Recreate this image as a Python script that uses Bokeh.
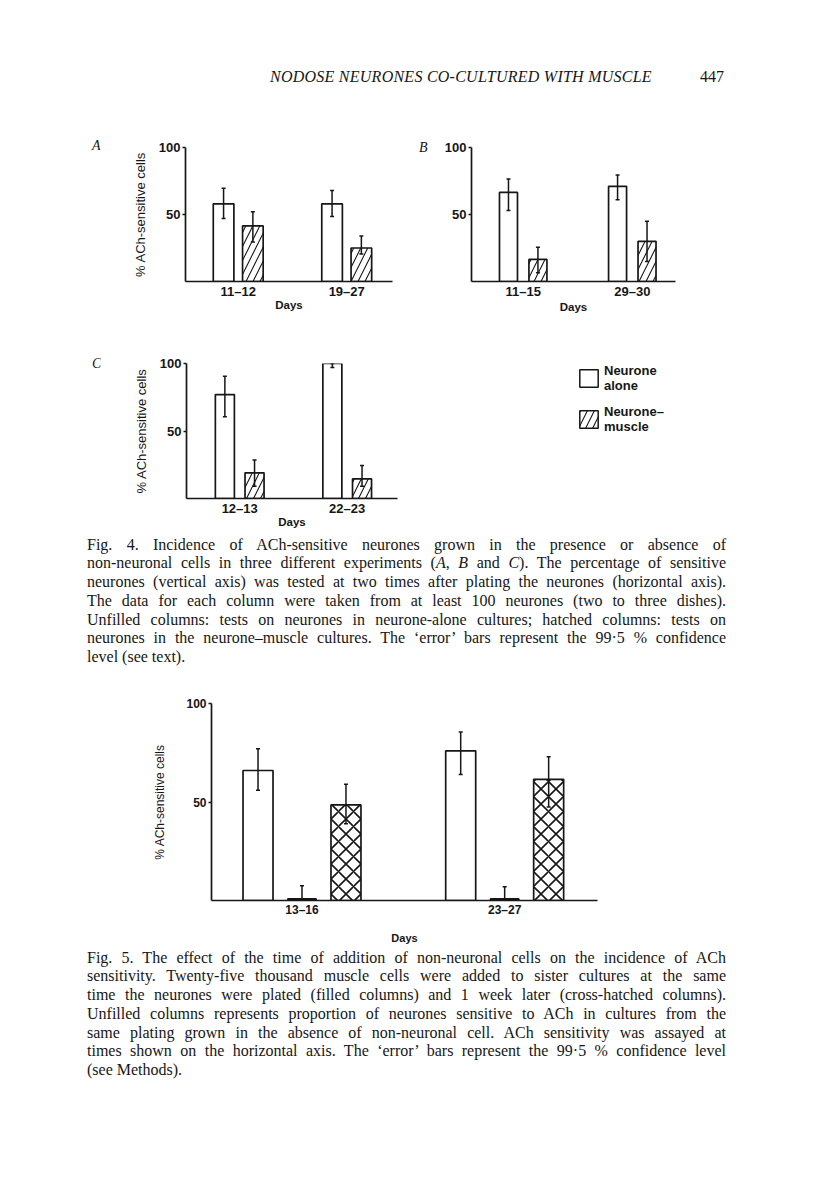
from bokeh.plotting import figure
from bokeh.models import (Range1d, FixedTicker, Whisker, TeeHead, ColumnDataSource,
                          Div, Legend, LegendItem)
from bokeh.layouts import row, column
from bokeh.transform import dodge
from bokeh.embed import file_html
from bokeh.resources import INLINE

# ---------------- data ----------------
# Fig. 4A
a_days = ["11–12", "19–27"]
a_alone = [58, 58]
a_alone_lo = [47, 48.5]
a_alone_hi = [69.5, 68]
a_muscle = [41.5, 25]
a_muscle_lo = [29.5, 20.5]
a_muscle_hi = [52, 34]

# Fig. 4B
b_days = ["11–15", "29–30"]
b_alone = [66.5, 71]
b_alone_lo = [53, 61]
b_alone_hi = [76.5, 79.5]
b_muscle = [16.5, 30]
b_muscle_lo = [6.5, 15]
b_muscle_hi = [25.5, 45]

# Fig. 4C
c_days = ["12–13", "22–23"]
c_alone = [77, 100]
c_alone_lo = [60.5, 97]
c_alone_hi = [90.5, 100]
c_muscle = [19, 14.5]
c_muscle_lo = [9, 9]
c_muscle_hi = [28.5, 24.5]

# Fig. 5
f5_days = ["13–16", "23–27"]
f5_alone = [66, 76]
f5_alone_lo = [56, 64]
f5_alone_hi = [77, 85.5]
f5_filled = [0.8, 0.8]
f5_filled_lo = [0.8, 0.8]
f5_filled_hi = [7.5, 7]
f5_cross = [48.5, 61.5]
f5_cross_lo = [39, 47.5]
f5_cross_hi = [59, 73]

y_ticks = [50, 100]
y_label = "% ACh-sensitive cells"
x_label = "Days"
legend_labels = ["Neurone\nalone", "Neurone–\nmuscle"]

SANS = "Liberation Sans"
SERIF = "Liberation Serif"
INK = "#161616"

UNFILLED = dict(fill_color="white")
HATCHED = dict(fill_color="white", hatch_pattern="/", hatch_color=INK, hatch_scale=14, hatch_weight=1.1)
CROSS = dict(fill_color="white", hatch_pattern="x", hatch_color=INK, hatch_scale=15, hatch_weight=1.6)
FILLED = dict(fill_color=INK)


def panel(width, height, bl, br, bt, bb, xr, days, series, ylab, tick_fs, ylab_fs,
          days_fs, ylab_standoff, xlab_standoff):
    p = figure(width=width, height=height, x_range=Range1d(*xr), y_range=Range1d(0, 100),
               output_backend="svg", toolbar_location=None, min_border_left=bl,
               min_border_right=br, min_border_top=bt, min_border_bottom=bb, margin=0)
    p.outline_line_color = None
    p.xgrid.visible = False
    p.ygrid.visible = False
    groups = list(range(1, len(days) + 1))
    srcs = []
    for offset, bw, vals, lo, hi, kw in series:
        src = ColumnDataSource(dict(g=groups, top=vals, lo=lo, hi=hi))
        srcs.append(src)
        p.vbar(x=dodge("g", offset), top="top", width=bw, source=src,
               line_color=INK, line_width=1.7, **kw)
        p.add_layout(Whisker(source=src, base=dodge("g", offset), upper="hi", lower="lo",
                             line_color=INK, line_width=1.5, level="overlay",
                             upper_head=TeeHead(size=4, line_width=1.5, line_color=INK),
                             lower_head=TeeHead(size=4, line_width=1.5, line_color=INK)))
    yax = p.yaxis[0]
    yax.ticker = FixedTicker(ticks=y_ticks)
    yax.minor_tick_line_color = None
    yax.major_tick_out = 3
    yax.major_tick_in = 0
    yax.axis_line_width = 1.7
    yax.axis_line_color = INK
    yax.major_tick_line_width = 1.5
    yax.major_tick_line_color = INK
    yax.major_label_text_font = SANS
    yax.major_label_text_font_style = "bold"
    yax.major_label_text_font_size = tick_fs
    yax.major_label_text_color = INK
    yax.major_label_standoff = 2
    if ylab:
        yax.axis_label = ylab
        yax.axis_label_text_font = SANS
        yax.axis_label_text_font_style = "normal"
        yax.axis_label_text_font_size = ylab_fs
        yax.axis_label_text_color = INK
        yax.axis_label_standoff = ylab_standoff
    xax = p.xaxis[0]
    xax.ticker = FixedTicker(ticks=groups)
    xax.major_label_overrides = {g: d for g, d in zip(groups, days)}
    xax.major_tick_out = 0
    xax.major_tick_in = 0
    xax.minor_tick_line_color = None
    xax.axis_line_width = 1.7
    xax.axis_line_color = INK
    xax.major_label_text_font = SANS
    xax.major_label_text_font_style = "bold"
    xax.major_label_text_font_size = tick_fs
    xax.major_label_text_color = INK
    xax.major_label_standoff = 2
    xax.axis_label = x_label
    xax.axis_label_text_font = SANS
    xax.axis_label_text_font_style = "bold"
    xax.axis_label_text_font_size = days_fs
    xax.axis_label_text_color = INK
    xax.axis_label_standoff = xlab_standoff
    return p, srcs


def letter_div(letter, width, height, left, top):
    html = (f'<div style="position:relative;width:{width}px;height:{height}px;">'
            f'<span style="position:absolute;left:{left}px;top:{top}px;font-family:\'{SERIF}\';'
            f'font-style:italic;font-size:14px;color:{INK};">{letter}</span></div>')
    return Div(text=html, width=width, height=height, margin=0)


def caption_div(lines, width, height, top):
    parts = []
    for i, ln in enumerate(lines):
        al = "left" if i == len(lines) - 1 else "justify"
        parts.append(f'<div style="text-align:{al};text-align-last:{al};height:18.75px;'
                     f'line-height:18.75px;">{ln}</div>')
    html = (f'<div style="position:relative;width:{width}px;height:{height}px;">'
            f'<div style="position:absolute;left:79px;top:{top}px;width:639px;'
            f'font-family:\'{SERIF}\';font-size:16px;color:{INK};">' + "".join(parts) +
            '</div></div>')
    return Div(text=html, width=width, height=height, margin=0)


# ---------------- header ----------------
header_html = (
    f'<div style="position:relative;width:800px;height:122px;font-family:\'{SERIF}\';color:{INK};">'
    '<span style="position:absolute;left:262px;top:58px;font-style:italic;font-size:16px;'
    'letter-spacing:0.25px;">NODOSE NEURONES CO-CULTURED WITH MUSCLE</span>'
    '<span style="position:absolute;left:692px;top:58px;font-size:16px;">447</span></div>')
header = Div(text=header_html, width=800, height=122, margin=0)

# ---------------- Fig. 4 panels ----------------
pa, _ = panel(300, 190, 85, 8, 16, 38, (0.514, 2.422), a_days,
              [(-0.135, 0.19, a_alone, a_alone_lo, a_alone_hi, UNFILLED),
               (0.135, 0.19, a_muscle, a_muscle_lo, a_muscle_hi, HATCHED)],
              y_label, "13px", "13px", "11.5px", 8, -3)
pb, _ = panel(270, 190, 41, 25, 17, 39, (0.526, 2.396), b_days,
              [(-0.135, 0.165, b_alone, b_alone_lo, b_alone_hi, UNFILLED),
               (0.135, 0.165, b_muscle, b_muscle_lo, b_muscle_hi, HATCHED)],
              None, "13px", "13px", "11.5px", 8, -1)
pc, c_srcs = panel(300, 214, 86, 3, 43, 36, (0.505, 2.468), c_days,
                   [(-0.138, 0.177, c_alone, c_alone_lo, c_alone_hi, UNFILLED),
                    (0.138, 0.177, c_muscle, c_muscle_lo, c_muscle_hi, HATCHED)],
                   y_label, "13px", "13px", "11.5px", 8, -3)

# ---------------- legend panel (key for panel C's two column types) ----------------
lg = figure(width=300, height=214, x_range=Range1d(0, 1), y_range=Range1d(0, 1),
            min_border_left=177, min_border_top=35, min_border_right=0, min_border_bottom=0,
            x_axis_location=None, y_axis_location=None, output_backend="svg",
            toolbar_location=None, margin=0)
lg.outline_line_color = None
lg.grid.visible = False
k1 = lg.vbar(x="g", top="top", width=0.1, source=c_srcs[0], line_color=INK,
             line_width=1.5, visible=False, **UNFILLED)
k2 = lg.vbar(x="g", top="top", width=0.1, source=c_srcs[1], line_color=INK,
             line_width=1.5, visible=False, **HATCHED)
leg = Legend(items=[LegendItem(label=legend_labels[0], renderers=[k1], index=0),
                    LegendItem(label=legend_labels[1], renderers=[k2], index=0)],
             location="top_left", margin=0, padding=0, border_line_color=None,
             background_fill_alpha=0, glyph_width=23, glyph_height=22, spacing=11,
             label_text_font=SANS, label_text_font_style="bold", label_text_font_size="13px",
             label_text_color=INK, label_standoff=4, inactive_fill_alpha=0)
lg.add_layout(leg)

cap4 = caption_div([
    "Fig. 4. Incidence of ACh-sensitive neurones grown in the presence or absence of",
    "non-neuronal cells in three different experiments (<i>A</i>, <i>B</i> and <i>C</i>). The percentage of sensitive",
    "neurones (vertical axis) was tested at two times after plating the neurones (horizontal axis).",
    "The data for each column were taken from at least 100 neurones (two to three dishes).",
    "Unfilled columns: tests on neurones in neurone-alone cultures; hatched columns: tests on",
    "neurones in the neurone–muscle cultures. The ‘error’ bars represent the 99·5 % confidence",
    "level (see text).",
], 800, 142, 1.6)

# ---------------- Fig. 5 ----------------
p5, _ = panel(609, 270, 203, 20, 27, 46, (0.5535, 2.458), f5_days,
              [(-0.217, 0.148, f5_alone, f5_alone_lo, f5_alone_hi, UNFILLED),
               (0.0, 0.14, f5_filled, f5_filled_lo, f5_filled_hi, FILLED),
               (0.217, 0.148, f5_cross, f5_cross_lo, f5_cross_hi, CROSS)],
              y_label, "12px", "12px", "11px", 16, 12)

cap5 = caption_div([
    "Fig. 5. The effect of the time of addition of non-neuronal cells on the incidence of ACh",
    "sensitivity. Twenty-five thousand muscle cells were added to sister cultures at the same",
    "time the neurones were plated (filled columns) and 1 week later (cross-hatched columns).",
    "Unfilled columns represents proportion of neurones sensitive to ACh in cultures from the",
    "same plating grown in the absence of non-neuronal cell. ACh sensitivity was assayed at",
    "times shown on the horizontal axis. The ‘error’ bars represent the 99·5 % confidence level",
    "(see Methods).",
], 800, 154, 2.6)

row1 = row(letter_div("A", 92, 190, 84, 6), pa, letter_div("B", 30, 190, 19, 8), pb,
           spacing=0, margin=0)
row2 = row(letter_div("C", 92, 214, 84, 34), pc, lg, spacing=0, margin=0)

page = column(header, row1, row2, cap4, p5, cap5, spacing=0, margin=(8, 0, 0, 8))

open("out.html", "w").write(file_html(page, INLINE))
